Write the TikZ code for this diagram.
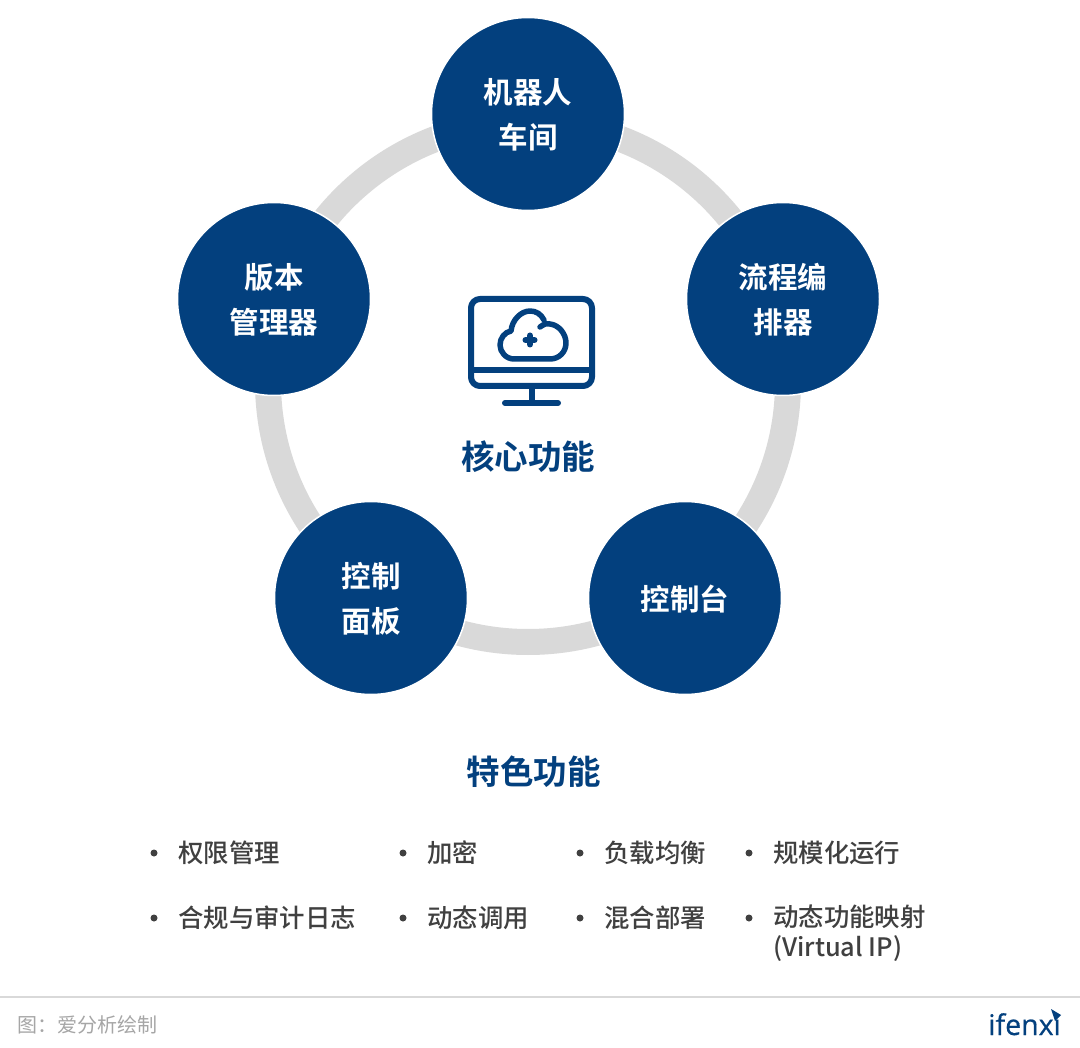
\documentclass[tikz,border=0pt]{standalone}
\usepackage{fontspec}
\usepackage{xcolor}
\setmainfont{Noto Sans CJK SC}[BoldFont={Noto Sans CJK SC Bold}]
\newfontfamily\zhongti{Noto Sans CJK SC Medium}
\newfontfamily\biaozhi[FakeBold=0.5]{Open Sans}
\usetikzlibrary{calc,positioning}
\definecolor{lanse}{HTML}{03407E}
\definecolor{huise}{HTML}{D9D9D9}
\definecolor{wenzi}{HTML}{404040}
\definecolor{jiaozhu}{HTML}{A6A6A6}
\tikzset{
  mokuai/.style={circle,fill=lanse,draw=white,line width=1.5pt,minimum size=193pt,inner sep=0pt},
  mowen/.style={inner sep=0pt,align=center,text=white,font=\fontsize{29.5}{45}\selectfont\bfseries},
  biaoti/.style={text=lanse,font=\fontsize{33.5}{40}\selectfont\bfseries,inner sep=0pt},
  dian/.style={circle,fill=wenzi,inner sep=0pt,minimum size=7pt},
  tiao/.style={anchor=west,text=wenzi,inner sep=0pt,align=left,font=\zhongti\fontsize{25.4}{29.5}\selectfont},
  tubiao/.style={draw=lanse,line width=6pt,line cap=round,line join=round}
}
\begin{document}
\begin{tikzpicture}[x=1pt,y=-1pt]
\useasboundingbox (0,0) rectangle (1080,1048);
\fill[white] (0,0) rectangle (1080,1048);
% huan
\draw[huise,line width=26pt] (528,382) circle[radius=260pt];
% wu ge mokuai
\foreach \x/\y/\nm/\lab in {528/114/jiqiren/{机器人\\车间},783/299/liucheng/{流程编\\排器},685/598/kongzhitai/{控制台},371/598/mianban/{控制\\面板},274/299/banben/{版本\\管理器}}{
  \node[mokuai] (\nm) at (\x,\y) {};
  \node[mowen] (\nm wen) at (\x,\y+1) {\lab};
}
% tubiao
\draw[tubiao,rounded corners=9pt] (471,299) rectangle (592,386);
\draw[tubiao,line cap=butt] (471,370) -- (592,370);
\draw[tubiao] (531.5,389) -- (531.5,403);
\draw[tubiao] (505,403) -- (558,403);
\draw[tubiao,line width=5.5pt] (540,327) .. controls (544,324) and (547,323) .. (550,324) .. controls (559,325) and (566,334) .. (566,343) .. controls (566,352) and (559,359) .. (550,359) -- (514,359) .. controls (506,359) and (500,352) .. (500,345) .. controls (500,338) and (505,332) .. (511,331) .. controls (512,320) and (521,311) .. (530,311) .. controls (536,311) and (541,314) .. (544,320);
\draw[tubiao] (525.5,340) -- (534.5,340);
\draw[tubiao] (530,335.5) -- (530,344.5);
% biaoti
\node[biaoti] (hexin) at (528,457) {核心功能};
\node[biaoti] (tese) at (533.5,772) {特色功能};
% tese gongneng
\foreach \x/\y/\nm/\lab in {154/853/a/{权限管理},403/853/b/{加密},580/853/c/{负载均衡},749/853/d/{规模化运行},154/918/e/{合规与审计日志},403/918/f/{动态调用},580/918/g/{混合部署}}{
  \node[dian] (dian\nm) at (\x,\y) {};
  \node[tiao] (tiao\nm) at (\x+24,\y) {\lab};
}
\node[dian] (dianh) at (749,918) {};
\node[tiao,anchor=north west] (tiaoh) at (773,905) {动态功能映射\\(Virtual IP)};
% jiaozhu
\draw[huise,line width=1.5pt] (0,997) -- (1080,997);
\node[anchor=west,text=jiaozhu,inner sep=0pt,font=\fontsize{20}{24}\selectfont] (laiyuan) at (17,1025) {图：爱分析绘制};
\node[anchor=base east,text=lanse,inner sep=0pt,font=\biaozhi\fontsize{28.5}{30}\selectfont] (ifenxi) at (1061,1035) {ifenxi};
\fill[lanse] (1051,1009) -- (1061,1015) -- (1055,1021) -- cycle;
\end{tikzpicture}
\end{document}
